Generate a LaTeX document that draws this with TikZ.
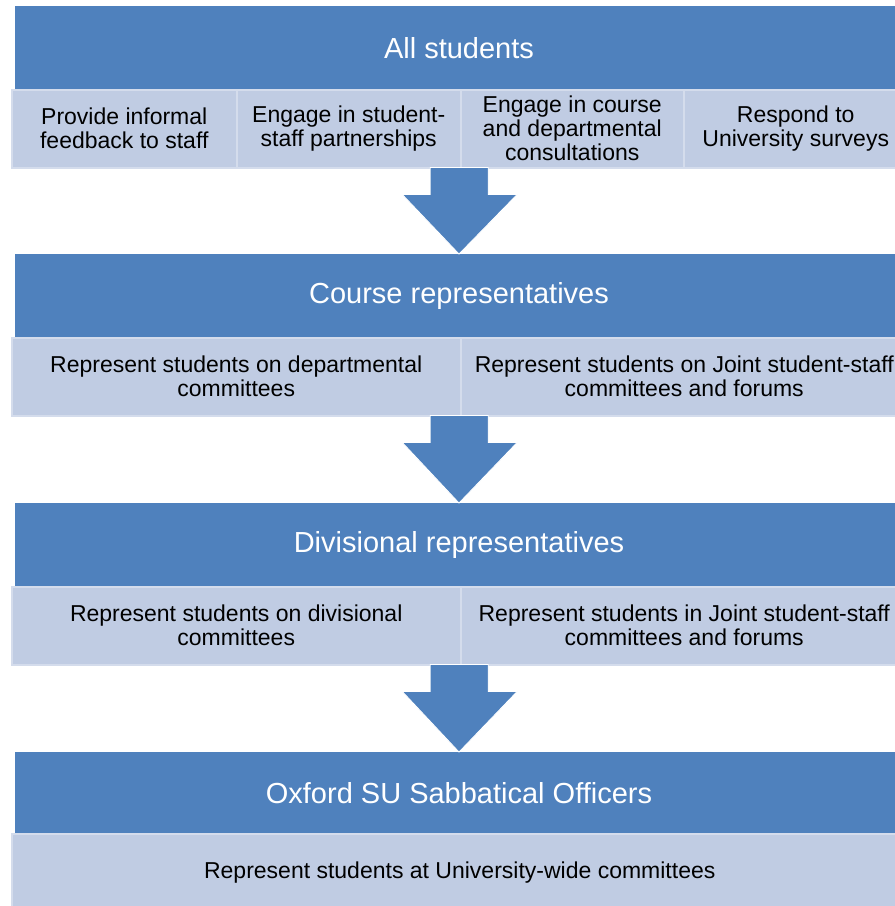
\documentclass[tikz,border=0pt]{standalone}
\usepackage{fontspec}
\setmainfont{Liberation Sans}
\usetikzlibrary{calc}
\definecolor{hdrblue}{HTML}{4F81BD}
\definecolor{cellfill}{HTML}{C0CCE3}
\definecolor{celledge}{HTML}{D4DCEC}
\begin{document}
\begin{tikzpicture}[x=1pt,y=-1pt,
  header/.style={fill=hdrblue, draw=none, text=white, font=\fontsize{29}{34}\selectfont,
    minimum width=888pt, minimum height=83pt, inner sep=0pt, anchor=north},
  cell/.style={fill=cellfill, draw=celledge, line width=1.5pt, font=\fontsize{23}{24}\selectfont,
    align=center, inner sep=0pt, minimum height=78pt, anchor=north west},
  rowbox/.style={draw=none, fill=none, minimum width=896pt, minimum height=78pt,
    inner sep=0pt, anchor=north west},
  downarrow/.style={fill=hdrblue, draw=white, line width=0.8pt, line join=miter}]
\useasboundingbox (0,0) rectangle (895,906);
\clip (0,0) rectangle (895,906);
\fill[white] (0,0) rectangle (895,906);

% level 1
\node[rowbox] (r1) at (11,89) {};
\node[cell, minimum width=225pt] (c11) at (11,89) {Provide informal\\feedback to staff};
\node[cell, minimum width=224pt] (c12) at (236,89) {Engage in student-\\staff partnerships};
\node[cell, minimum width=223pt] (c13) at (460,89) {Engage in course\\and departmental\\consultations};
\node[cell, minimum width=224pt] (c14) at (683,89) {Respond to\\University surveys};
\node[header] (h1) at (459,6) {All students};

% level 2
\node[rowbox] (r2) at (11,337) {};
\node[cell, minimum width=449pt] (c21) at (11,337) {Represent students on departmental\\committees};
\node[cell, minimum width=447pt] (c22) at (460,337) {Represent students on Joint student-staff\\committees and forums};
\node[header] (h2) at (459,254) {Course representatives};

% level 3
\node[rowbox] (r3) at (11,586) {};
\node[cell, minimum width=449pt] (c31) at (11,586) {Represent students on divisional\\committees};
\node[cell, minimum width=447pt] (c32) at (460,586) {Represent students in Joint student-staff\\committees and forums};
\node[header] (h3) at (459,503) {Divisional representatives};

% level 4
\node[rowbox] (r4) at (11,833) {};
\node[cell, minimum width=896pt] (c41) at (11,833) {Represent students at University-wide committees};
\node[header, minimum height=81pt] (h4) at (459,752) {Oxford SU Sabbatical Officers};

% arrows
\foreach \r/\h in {r1/h2, r2/h3, r3/h4}{
  \path[downarrow] ($(\r.south)+(-29,0)$) -- ($(\r.south)+(29,0)$) -- ($(\r.south)+(29,27)$)
    -- ($(\r.south)+(58,27)$) -- (\h.north) -- ($(\r.south)+(-57,27)$)
    -- ($(\r.south)+(-29,27)$) -- cycle;
}
\end{tikzpicture}
\end{document}
